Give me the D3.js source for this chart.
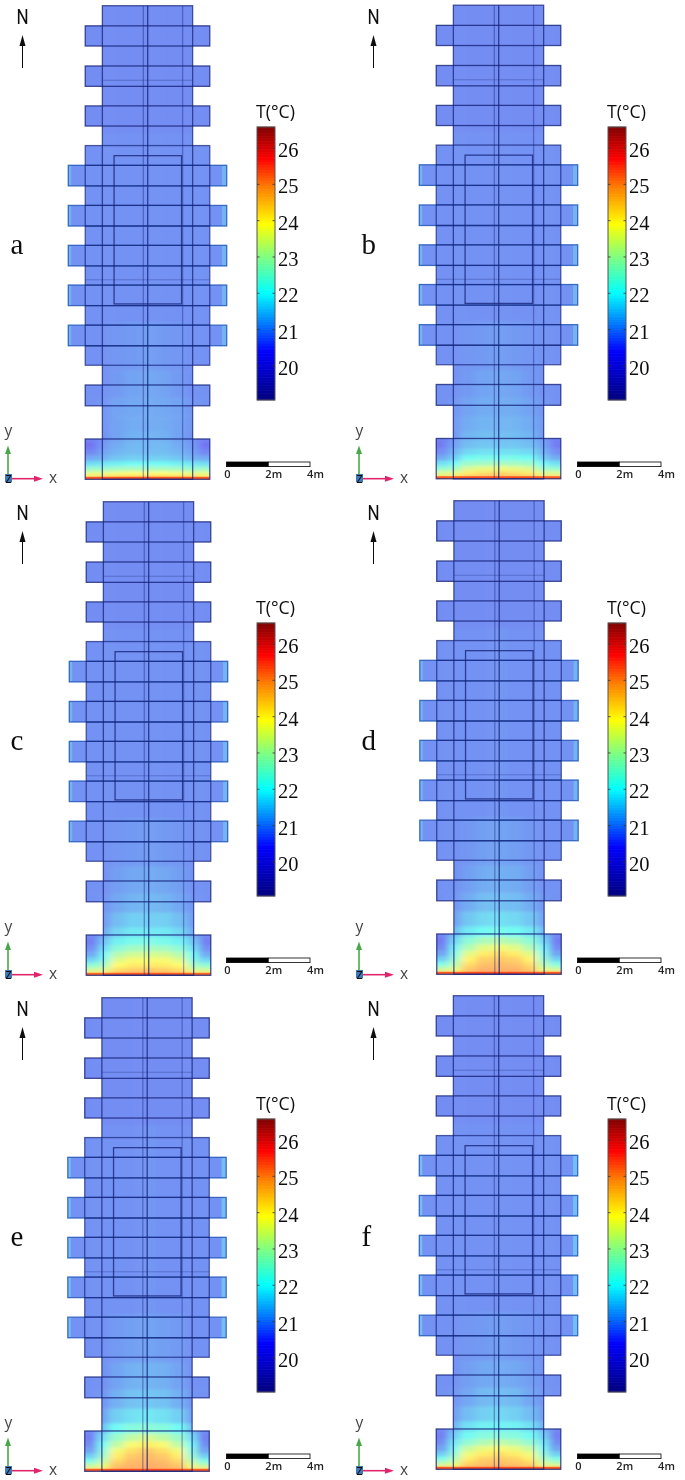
<!DOCTYPE html>
<html>
<head>
<meta charset="utf-8">
<script src="https://cdn.jsdelivr.net/npm/d3@7/dist/d3.min.js"></script>
<style>
  html, body { margin: 0; padding: 0; background: #fff; }
  svg { display: block; }
</style>
</head>
<body>
<div id="chart"></div>
<script>
// panel letters
var panelNames = ['a', 'b', 'c', 'd', 'e', 'f'];

// temperature readings, metres from the south wall (rows) / from the centre line (columns)
var rowDist = [0.1, 0.3, 0.5, 0.75, 1.0, 1.3, 1.6, 2.0, 2.6, 3.4, 4.4, 6, 9, 24];
var colDist = [0, 0.75, 1.5, 2.15, 2.6, 3.0];

var tempA = [
  [24.7, 24.7, 24.6, 24.4, 24.3, 24.3],
  [23.9, 23.9, 23.8, 23.6, 23.6, 23.6],
  [22.8, 22.8, 22.7, 22.6, 22.6, 22.6],
  [22.0, 22.0, 21.9, 21.8, 21.7, 21.7],
  [21.5, 21.5, 21.4, 21.2, 21.1, 21.1],
  [21.3, 21.3, 21.2, 21.0, 20.7, 20.7],
  [21.25, 21.25, 21.1, 20.9, 20.5, 20.5],
  [21.2, 21.15, 21.0, 20.8, 20.6, 20.6],
  [21.1, 21.1, 21.0, 20.85, 20.8, 20.8],
  [21.1, 21.05, 21.0, 20.85, 20.8, 20.8],
  [21.05, 21.0, 20.9, 20.8, 20.8, 20.8],
  [20.95, 20.9, 20.85, 20.8, 20.8, 20.8],
  [20.8, 20.8, 20.8, 20.8, 20.8, 20.8],
  [20.75, 20.75, 20.75, 20.75, 20.75, 20.75]
];
var tempB = [
  [24.9, 24.8, 24.7, 24.3, 24.3, 24.3],
  [24.4, 24.3, 24.1, 23.5, 23.4, 23.4],
  [23.7, 23.6, 23.4, 22.7, 22.5, 22.5],
  [22.8, 22.7, 22.6, 22.0, 21.7, 21.7],
  [22.1, 22.1, 22.0, 21.5, 21.1, 21.1],
  [21.7, 21.7, 21.6, 21.2, 20.8, 20.7],
  [21.4, 21.4, 21.3, 21.0, 20.6, 20.5],
  [21.3, 21.3, 21.2, 20.9, 20.6, 20.6],
  [21.2, 21.2, 21.1, 20.9, 20.8, 20.8],
  [21.1, 21.1, 21.0, 20.85, 20.8, 20.8],
  [21.05, 21.0, 20.9, 20.8, 20.8, 20.8],
  [20.95, 20.9, 20.85, 20.8, 20.8, 20.8],
  [20.8, 20.8, 20.8, 20.8, 20.8, 20.8],
  [20.75, 20.75, 20.75, 20.75, 20.75, 20.75]
];
var tempC = [
  [24.9, 24.9, 24.7, 24.2, 24.2, 24.2],
  [24.6, 24.5, 24.3, 23.4, 23.2, 23.2],
  [24.1, 24.1, 23.9, 22.8, 22.4, 22.4],
  [23.8, 23.8, 23.5, 22.3, 21.6, 21.6],
  [23.4, 23.3, 23.0, 22.0, 21.1, 21.1],
  [22.8, 22.7, 22.4, 21.7, 20.8, 20.8],
  [22.2, 22.1, 21.9, 21.4, 20.6, 20.6],
  [21.8, 21.8, 21.6, 21.1, 20.7, 20.7],
  [21.5, 21.5, 21.3, 20.95, 20.8, 20.8],
  [21.25, 21.2, 21.05, 20.85, 20.8, 20.8],
  [21.1, 21.05, 20.95, 20.8, 20.8, 20.8],
  [20.95, 20.9, 20.85, 20.8, 20.8, 20.8],
  [20.8, 20.8, 20.8, 20.8, 20.8, 20.8],
  [20.75, 20.75, 20.75, 20.75, 20.75, 20.75]
];
var tempD = [
  [25.0, 25.0, 24.8, 24.2, 24.3, 24.3],
  [24.9, 24.9, 24.6, 23.5, 23.1, 23.1],
  [24.8, 24.7, 24.3, 23.0, 22.2, 22.2],
  [24.6, 24.5, 24.0, 22.6, 21.5, 21.5],
  [24.3, 24.1, 23.5, 22.2, 21.0, 21.0],
  [23.7, 23.5, 22.9, 21.9, 20.7, 20.7],
  [23.0, 22.8, 22.4, 21.6, 20.6, 20.5],
  [22.1, 22.0, 21.8, 21.3, 20.7, 20.7],
  [21.7, 21.6, 21.4, 21.0, 20.8, 20.8],
  [21.35, 21.3, 21.1, 20.85, 20.8, 20.8],
  [21.15, 21.1, 20.95, 20.8, 20.8, 20.8],
  [21.0, 20.95, 20.85, 20.8, 20.8, 20.8],
  [20.85, 20.8, 20.8, 20.8, 20.8, 20.8],
  [20.75, 20.75, 20.75, 20.75, 20.75, 20.75]
];
var tempE = [
  [25.0, 25.0, 24.9, 24.3, 24.3, 24.3],
  [25.0, 24.9, 24.7, 23.6, 23.1, 23.1],
  [24.9, 24.8, 24.4, 23.1, 22.2, 22.2],
  [24.8, 24.6, 24.1, 22.6, 21.5, 21.5],
  [24.6, 24.3, 23.7, 22.3, 21.0, 21.0],
  [24.1, 23.8, 23.1, 22.0, 20.8, 20.7],
  [23.4, 23.1, 22.6, 21.7, 20.6, 20.6],
  [22.4, 22.3, 22.0, 21.4, 20.7, 20.7],
  [21.8, 21.7, 21.5, 21.0, 20.8, 20.8],
  [21.4, 21.35, 21.15, 20.85, 20.8, 20.8],
  [21.2, 21.15, 21.0, 20.8, 20.8, 20.8],
  [21.0, 20.95, 20.9, 20.8, 20.8, 20.8],
  [20.85, 20.8, 20.8, 20.8, 20.8, 20.8],
  [20.75, 20.75, 20.75, 20.75, 20.75, 20.75]
];
var tempF = [
  [25.0, 24.9, 24.8, 24.2, 24.3, 24.3],
  [24.8, 24.7, 24.5, 23.5, 23.1, 23.1],
  [24.6, 24.5, 24.1, 23.0, 22.2, 22.2],
  [24.3, 24.1, 23.7, 22.5, 21.5, 21.5],
  [23.8, 23.6, 23.2, 22.1, 21.0, 21.0],
  [23.1, 22.9, 22.5, 21.8, 20.8, 20.7],
  [22.4, 22.3, 22.0, 21.5, 20.6, 20.6],
  [21.9, 21.9, 21.7, 21.2, 20.7, 20.7],
  [21.6, 21.5, 21.3, 20.95, 20.8, 20.8],
  [21.3, 21.25, 21.05, 20.85, 20.8, 20.8],
  [21.1, 21.05, 20.95, 20.8, 20.8, 20.8],
  [20.95, 20.9, 20.85, 20.8, 20.8, 20.8],
  [20.8, 20.8, 20.8, 20.8, 20.8, 20.8],
  [20.75, 20.75, 20.75, 20.75, 20.75, 20.75]
];
var panelTemps = [tempA, tempB, tempC, tempD, tempE, tempF];

// temperature of the south wall strip and of the far ends of the long wings
var southWallT = [25.5, 25.5, 25.4, 25.5, 25.5, 25.5];
var wingEndT = [21.2, 21.2, 21.2, 21.2, 21.3, 21.3];

// floor plan in metres: [half width, south edge, north edge]
var towerPlan = [[2.16, 0, 22.55]];
var blockPlan = [[2.98, 5.43, 15.89]];
var shortWings = [[2.98, 20.63, 21.59], [2.98, 18.71, 19.68], [2.98, 16.82, 17.78], [2.98, 3.5, 4.49], [2.98, 0, 1.92]];
var longWings = [[3.79, 13.97, 14.95], [3.79, 12.06, 13.04], [3.79, 10.16, 11.14], [3.79, 8.27, 9.25], [3.79, 6.36, 7.34]];
var innerRoom = [[-1.6, 1.63, 8.35, 15.41]];
var wallLines = [-0.2, 0.01, 1.68];
var beamLines = [[2.16, 19.0], [2.98, 9.5]];

// colour bar
var barTicks = [20, 21, 22, 23, 24, 25, 26];
var barRange = [19.06, 26.58];
var jetT = [19.06, 20.4, 21.2, 22, 23, 23.9, 24.9, 25.7, 26.58];
var jetColors = ['#00007f', '#0000ff', '#0080ff', '#00ffff', '#80ff80', '#ffff00', '#ff8000', '#ff0000', '#7f0000'];

// length scale
var scaleTicks = [0, 2, 4];

var width = 685, height = 1480;
var buildingShift = [[0, 0], [351, -0.5], [1, 496], [351.5, 495], [-0.5, 992], [351, 990]];
var chromeShift = [[0, 0], [351, 0], [0, 496], [351, 496], [0, 992], [351, 992]];

var color = d3.scaleLinear().domain(jetT).range(jetColors).clamp(true);
var px = d3.scaleLinear().domain([-3.79, 3.79]).range([68.3, 226.7]);
var py = d3.scaleLinear().domain([0, 22.55]).range([479.3, 5.7]);
var barY = d3.scaleLinear().domain(barRange).range([400, 127]);
var lenX = d3.scaleLinear().domain([0, 4]).range([226.5, 310]);

var svg = d3.select('#chart').append('svg').attr('width', width).attr('height', height);
svg.append('rect').attr('width', width).attr('height', height).attr('fill', '#fff');

var defs = svg.append('defs');
defs.append('filter').attr('id', 'fieldBlur')
  .attr('filterUnits', 'userSpaceOnUse').attr('x', 0).attr('y', -20).attr('width', 300).attr('height', 540)
  .append('feGaussianBlur').attr('stdDeviation', '3.5 1.5');
defs.append('filter').attr('id', 'soft')
  .attr('filterUnits', 'userSpaceOnUse').attr('x', 0).attr('y', 0).attr('width', width).attr('height', height)
  .append('feGaussianBlur').attr('stdDeviation', 0.35);

var clip = defs.append('clipPath').attr('id', 'planClip');
var allRects = towerPlan.concat(blockPlan, shortWings, longWings);
clip.selectAll('rect').data(allRects).join('rect')
  .attr('x', function (d) { return px(-d[0]); })
  .attr('y', function (d) { return py(d[2]); })
  .attr('width', function (d) { return px(d[0]) - px(-d[0]); })
  .attr('height', function (d) { return py(d[1]) - py(d[2]); });

var root = svg.append('g').attr('filter', 'url(#soft)');

// row and column edges of the field cells (half way between readings)
function edges(list, first, last) {
  var out = [first];
  for (var i = 1; i < list.length; i++) out.push((list[i - 1] + list[i]) / 2);
  out.push(last);
  return out;
}
var rowEdges = edges(rowDist, -0.6, 24);
var colEdges = edges(colDist, 0, 4.6);

function drawField(g, temps, wallT, endT) {
  var cells = [];
  temps.forEach(function (row, r) {
    row.forEach(function (t, c) {
      cells.push({r: r, c: c, t: t, side: -1});
      cells.push({r: r, c: c, t: t, side: 1});
    });
  });
  var tinted = g.append('g').attr('clip-path', 'url(#planClip)');
  tinted.append('rect').attr('x', 0).attr('y', 0).attr('width', 300).attr('height', 490).attr('fill', '#fff6e4');
  var clipped = tinted.append('g').attr('opacity', 0.55);
  clipped.append('g').attr('filter', 'url(#fieldBlur)')
    .selectAll('rect').data(cells).join('rect')
    .attr('x', function (d) { return d.side < 0 ? px(-colEdges[d.c + 1]) : px(colEdges[d.c]); })
    .attr('width', function (d) { return px(colEdges[d.c + 1]) - px(colEdges[d.c]) + 0.5; })
    .attr('y', function (d) { return py(rowEdges[d.r + 1]); })
    .attr('height', function (d) { return py(rowEdges[d.r]) - py(rowEdges[d.r + 1]) + 0.5; })
    .attr('fill', function (d) { return color(d.t); });

  // lighter ends of the long wings
  var ends = [];
  longWings.forEach(function (w) { ends.push([-w[0], -w[0] + 0.14, w[1], w[2]]); ends.push([w[0] - 0.22, w[0], w[1], w[2]]); });
  clipped.selectAll('rect.end').data(ends).join('rect').attr('class', 'end')
    .attr('x', function (d) { return px(d[0]); })
    .attr('width', function (d) { return px(d[1]) - px(d[0]); })
    .attr('y', function (d) { return py(d[3]); })
    .attr('height', function (d) { return py(d[2]) - py(d[3]); })
    .attr('fill', color(endT));

  // hot strip along the south wall
  g.append('rect')
    .attr('x', px(-2.98)).attr('width', px(2.98) - px(-2.98))
    .attr('y', py(0.12)).attr('height', py(0) - py(0.12))
    .attr('fill', color(wallT)).attr('opacity', 0.7);
}

function drawPlan(g) {
  var dark = '#18247a';
  function outline(list, stroke, sw, op) {
    g.append('g').selectAll('rect').data(list).join('rect')
      .attr('x', function (d) { return px(-d[0]); })
      .attr('y', function (d) { return py(d[2]); })
      .attr('width', function (d) { return px(d[0]) - px(-d[0]); })
      .attr('height', function (d) { return py(d[1]) - py(d[2]); })
      .attr('fill', 'none').attr('stroke', stroke).attr('stroke-width', sw).attr('stroke-opacity', op);
  }
  g.append('g').selectAll('line').data(wallLines).join('line')
    .attr('x1', function (d) { return px(d); }).attr('x2', function (d) { return px(d); })
    .attr('y1', py(22.55)).attr('y2', py(0))
    .attr('stroke', dark).attr('stroke-width', 1.3).attr('stroke-opacity', function (d, i) { return i == 1 ? 0.8 : 0.4; });
  g.append('g').selectAll('line').data(beamLines).join('line')
    .attr('x1', function (d) { return px(-d[0]); }).attr('x2', function (d) { return px(d[0]); })
    .attr('y1', function (d) { return py(d[1]); }).attr('y2', function (d) { return py(d[1]); })
    .attr('stroke', dark).attr('stroke-width', 1).attr('stroke-opacity', 0.3);
  outline(longWings, '#2458b8', 1.3, 0.85);
  // the long wing edges read darker where they cross the block
  var crossing = [];
  longWings.forEach(function (w) { crossing.push(w[1]); crossing.push(w[2]); });
  g.append('g').selectAll('line').data(crossing).join('line')
    .attr('x1', px(-2.98)).attr('x2', px(2.98))
    .attr('y1', function (d) { return py(d); }).attr('y2', function (d) { return py(d); })
    .attr('stroke', dark).attr('stroke-width', 1.3).attr('stroke-opacity', 0.75);
  outline(towerPlan, dark, 1.3, 0.75);
  outline(blockPlan, dark, 1.3, 0.7);
  outline(shortWings, dark, 1.3, 0.8);
  g.append('g').selectAll('rect').data(innerRoom).join('rect')
    .attr('x', function (d) { return px(d[0]); })
    .attr('y', function (d) { return py(d[3]); })
    .attr('width', function (d) { return px(d[1]) - px(d[0]); })
    .attr('height', function (d) { return py(d[2]) - py(d[3]); })
    .attr('fill', 'none').attr('stroke', dark).attr('stroke-width', 1.3).attr('stroke-opacity', 0.8);
}

function drawChrome(g, name) {
  // north arrow
  g.append('text').attr('x', 22.5).attr('y', 24.5).attr('text-anchor', 'middle')
    .attr('font-family', 'Roboto, sans-serif').attr('font-size', 20).attr('fill', '#111')
    .attr('transform', 'translate(22.5 0) scale(0.85 1) translate(-22.5 0)').text('N');
  g.append('line').attr('x1', 22.5).attr('x2', 22.5).attr('y1', 68).attr('y2', 42).attr('stroke', '#111').attr('stroke-width', 1);
  g.append('path').attr('d', d3.line()([[22.5, 35], [25.5, 46], [19.5, 46]]) + 'Z').attr('fill', '#111');

  // panel letter
  g.append('text').attr('x', 10.5).attr('y', 254)
    .attr('font-family', '"Liberation Serif", serif').attr('font-size', 29).attr('fill', '#111').text(name);

  // colour bar
  var steps = d3.range(barRange[0], barRange[1], 0.02);
  g.append('g').selectAll('rect').data(steps).join('rect')
    .attr('x', 257).attr('width', 18)
    .attr('y', function (d) { return barY(d + 0.02) - 0.3; })
    .attr('height', function (d) { return barY(d) - barY(d + 0.02) + 0.6; })
    .attr('fill', function (d) { return color(d); });
  g.append('rect').attr('x', 257).attr('y', 127).attr('width', 18).attr('height', 273)
    .attr('fill', 'none').attr('stroke', '#555').attr('stroke-width', 1);
  g.append('g').selectAll('line').data(barTicks).join('line')
    .attr('x1', 257).attr('x2', 275)
    .attr('y1', function (d) { return barY(d); }).attr('y2', function (d) { return barY(d); })
    .attr('stroke', '#333').attr('stroke-width', 0.8).attr('stroke-dasharray', '2.5 13');
  var barAxis = g.append('g').attr('transform', 'translate(275,0)')
    .call(d3.axisRight(barY).tickValues(barTicks).tickSize(0).tickPadding(3).tickFormat(d3.format('d')));
  barAxis.select('.domain').remove();
  barAxis.selectAll('text')
    .attr('font-family', '"Liberation Serif", serif').attr('font-size', 20.5).attr('fill', '#111').attr('dy', '0.42em');
  g.append('text').attr('x', 256).attr('y', 118)
    .attr('font-family', '"Open Sans", sans-serif').attr('font-size', 18).attr('fill', '#111')
    .attr('textLength', 39).attr('lengthAdjust', 'spacingAndGlyphs').text('T(°C)');

  // axis triad
  g.append('line').attr('x1', 8).attr('x2', 8).attr('y1', 477).attr('y2', 452).attr('stroke', '#4aa84a').attr('stroke-width', 1.6);
  g.append('path').attr('d', d3.line()([[8, 445.5], [11, 454], [5, 454]]) + 'Z').attr('fill', '#4aa84a');
  g.append('line').attr('x1', 8).attr('x2', 36).attr('y1', 478.7).attr('y2', 478.7).attr('stroke', '#e0286a').attr('stroke-width', 1.6);
  g.append('path').attr('d', d3.line()([[43, 478.7], [34, 475.7], [34, 481.7]]) + 'Z').attr('fill', '#e0286a');
  g.append('rect').attr('x', 5).attr('y', 474).attr('width', 7).attr('height', 8).attr('fill', '#3f78b8');
  g.append('text').attr('x', 8.5).attr('y', 482.5).attr('text-anchor', 'middle')
    .attr('font-family', '"Open Sans", sans-serif').attr('font-size', 14).attr('fill', '#111').text('z');
  g.append('text').attr('x', 8.5).attr('y', 436).attr('text-anchor', 'middle')
    .attr('font-family', '"Open Sans", sans-serif').attr('font-size', 15.5).attr('fill', '#444').text('y');
  g.append('text').attr('x', 53).attr('y', 483).attr('text-anchor', 'middle')
    .attr('font-family', '"Open Sans", sans-serif').attr('font-size', 15.5).attr('fill', '#444').text('x');

  // length scale
  g.append('g').selectAll('rect').data([[0, 2, '#000'], [2, 4, '#fff']]).join('rect')
    .attr('x', function (d) { return lenX(d[0]); })
    .attr('width', function (d) { return lenX(d[1]) - lenX(d[0]); })
    .attr('y', 462).attr('height', 4.6)
    .attr('fill', function (d) { return d[2]; })
    .attr('stroke', '#000').attr('stroke-width', 0.8);
  var lenAxis = g.append('g').attr('transform', 'translate(0,467)')
    .call(d3.axisBottom(lenX).tickValues(scaleTicks).tickSize(0).tickPadding(3)
      .tickFormat(function (d) { return d == 0 ? '0' : d + 'm'; }));
  lenAxis.select('.domain').remove();
  lenAxis.selectAll('text')
    .attr('font-family', '"Open Sans", sans-serif').attr('font-size', 11).attr('font-weight', 600).attr('fill', '#222')
    .attr('dx', function (d) { return d == 0 ? 0.5 : 5; });
}

panelNames.forEach(function (name, i) {
  var b = root.append('g').attr('transform', 'translate(' + buildingShift[i][0] + ',' + buildingShift[i][1] + ')');
  drawField(b, panelTemps[i], southWallT[i], wingEndT[i]);
  drawPlan(b);
  var c = root.append('g').attr('transform', 'translate(' + chromeShift[i][0] + ',' + chromeShift[i][1] + ')');
  drawChrome(c, name);
});
</script>
</body>
</html>
